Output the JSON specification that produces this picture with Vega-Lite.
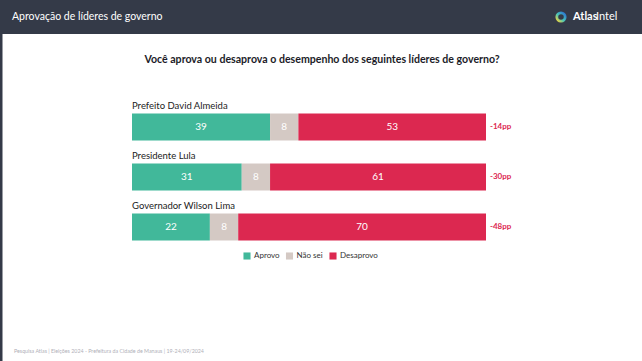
{
  "$schema": "https://vega.github.io/schema/vega-lite/v6.json",
  "width": 354,
  "height": 150,
  "autosize": {"type": "none"},
  "padding": {"left": 132, "top": 102, "right": 156, "bottom": 109},
  "background": "white",
  "config": {
    "view": {"stroke": null},
    "font": "Lato",
    "text": {"font": "Lato"},
    "legend": {"labelFont": "Lato"}
  },
  "datasets": {
    "respostas": [
      {"lider": "Prefeito David Almeida", "resposta": "Aprovo", "v": 39, "ordem": 1},
      {"lider": "Prefeito David Almeida", "resposta": "Não sei", "v": 8, "ordem": 2},
      {"lider": "Prefeito David Almeida", "resposta": "Desaprovo", "v": 53, "ordem": 3},
      {"lider": "Presidente Lula", "resposta": "Aprovo", "v": 31, "ordem": 1},
      {"lider": "Presidente Lula", "resposta": "Não sei", "v": 8, "ordem": 2},
      {"lider": "Presidente Lula", "resposta": "Desaprovo", "v": 61, "ordem": 3},
      {"lider": "Governador Wilson Lima", "resposta": "Aprovo", "v": 22, "ordem": 1},
      {"lider": "Governador Wilson Lima", "resposta": "Não sei", "v": 8, "ordem": 2},
      {"lider": "Governador Wilson Lima", "resposta": "Desaprovo", "v": 70, "ordem": 3}
    ],
    "lideres": [
      {"lider": "Prefeito David Almeida", "saldo": "-14pp"},
      {"lider": "Presidente Lula", "saldo": "-30pp"},
      {"lider": "Governador Wilson Lima", "saldo": "-48pp"}
    ]
  },
  "layer": [
    {
      "data": {"values": [{}]},
      "mark": {"type": "rect", "x": -132, "x2": 510, "y": -102, "y2": -68, "color": "#343a48"},
      "encoding": {}
    },
    {
      "data": {"values": [{}]},
      "mark": {"type": "rect", "x": -132, "x2": -129.5, "y": -102, "y2": 259, "color": "#343a48"},
      "encoding": {}
    },
    {
      "data": {"values": [{}]},
      "mark": {"type": "rule", "x": -118, "x2": 497, "y": 240.5, "color": "#e3e3e3", "strokeWidth": 2},
      "encoding": {}
    },
    {
      "data": {"values": [{"t": "Aprovação de líderes de governo"}]},
      "mark": {"type": "text", "x": -120, "y": -85, "align": "left", "baseline": "middle", "color": "white", "fontSize": 10.5},
      "encoding": {"text": {"field": "t", "type": "nominal"}}
    },
    {
      "data": {"values": [{}]},
      "mark": {
        "type": "point", "x": 429, "y": -85, "shape": "circle", "filled": false, "size": 70, "strokeWidth": 2.8, "opacity": 1,
        "stroke": {"gradient": "linear", "x1": 0, "y1": 1, "x2": 1, "y2": 0,
          "stops": [{"offset": 0, "color": "#f4d63a"}, {"offset": 0.45, "color": "#48c6b8"}, {"offset": 1, "color": "#2a6fd2"}]}
      },
      "encoding": {}
    },
    {
      "data": {"values": [{"t": "Atlas"}]},
      "mark": {"type": "text", "x": 441, "y": -85, "align": "left", "baseline": "middle", "color": "white", "fontSize": 11, "fontWeight": "bold"},
      "encoding": {"text": {"field": "t", "type": "nominal"}}
    },
    {
      "data": {"values": [{"t": "Intel"}]},
      "mark": {"type": "text", "x": 464, "y": -85, "align": "left", "baseline": "middle", "color": "white", "fontSize": 11},
      "encoding": {"text": {"field": "t", "type": "nominal"}}
    },
    {
      "data": {"values": [{"t": "Você aprova ou desaprova o desempenho dos seguintes líderes de governo?"}]},
      "mark": {"type": "text", "x": 190, "y": -42, "align": "center", "baseline": "middle", "color": "#1c1c28", "fontSize": 10.6, "fontWeight": "bold"},
      "encoding": {"text": {"field": "t", "type": "nominal"}}
    },
    {
      "data": {"values": [{"t": "Pesquisa Atlas  |  Eleições 2024 - Prefeitura da Cidade de Manaus  |  19-24/09/2024"}]},
      "mark": {"type": "text", "x": -118, "y": 249, "align": "left", "baseline": "middle", "color": "#b0b0b8", "fontSize": 5.3},
      "encoding": {"text": {"field": "t", "type": "nominal"}}
    },
    {
      "data": {"name": "respostas"},
      "mark": {"type": "bar"},
      "encoding": {
        "x": {"field": "v", "type": "quantitative", "stack": "zero", "scale": {"domain": [0, 100], "nice": false}, "axis": null},
        "y": {"field": "lider", "type": "nominal", "sort": null, "scale": {"paddingInner": 0.46, "paddingOuter": 0.23}, "axis": null},
        "color": {
          "field": "resposta", "type": "nominal",
          "scale": {"domain": ["Aprovo", "Não sei", "Desaprovo"], "range": ["#41b89a", "#d4c9c4", "#dc2850"]},
          "legend": {
            "orient": "none", "legendX": 111, "legendY": 150, "direction": "horizontal", "title": null, "symbolType": "square", "symbolSize": 50,
            "symbolStrokeWidth": 0, "symbolOpacity": 1, "labelFontSize": 8, "labelColor": "#333333", "columnPadding": 5.5, "labelOffset": 3
          }
        },
        "order": {"field": "ordem", "type": "quantitative"}
      }
    },
    {
      "data": {"name": "respostas"},
      "transform": [
        {"stack": "v", "groupby": ["lider"], "sort": [{"field": "ordem"}], "as": ["x0", "x1"]},
        {"fold": ["x0", "x1"], "as": ["k", "pos"]}
      ],
      "mark": {"type": "text", "color": "white", "fontSize": 10, "baseline": "middle", "align": "center"},
      "encoding": {
        "x": {"aggregate": "mean", "field": "pos", "type": "quantitative"},
        "y": {"field": "lider", "type": "nominal", "sort": null},
        "text": {"field": "v", "type": "quantitative"},
        "detail": {"field": "resposta", "type": "nominal"}
      }
    },
    {
      "data": {"name": "lideres"},
      "mark": {"type": "text", "align": "left", "baseline": "middle", "dy": -21, "fontSize": 9.5, "color": "#222222"},
      "encoding": {
        "x": {"datum": 0, "type": "quantitative"},
        "y": {"field": "lider", "type": "nominal", "sort": null},
        "text": {"field": "lider", "type": "nominal"}
      }
    },
    {
      "data": {"name": "lideres"},
      "mark": {"type": "text", "align": "left", "baseline": "middle", "dx": 4, "fontSize": 8, "fontWeight": "bold", "color": "#dc2850"},
      "encoding": {
        "x": {"datum": 100, "type": "quantitative"},
        "y": {"field": "lider", "type": "nominal", "sort": null},
        "text": {"field": "saldo", "type": "nominal"}
      }
    }
  ]
}
